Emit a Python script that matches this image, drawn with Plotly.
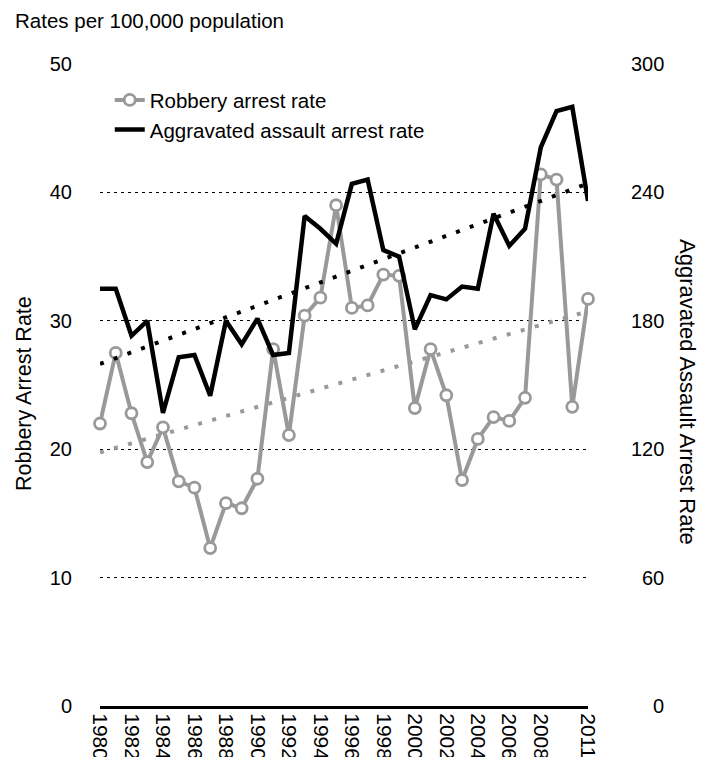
import numpy as np
import plotly.graph_objects as go

YEARS = list(range(1980, 2012))
ROBBERY = [22.0, 27.5, 22.8, 19.0, 21.7, 17.5, 17.0, 12.3, 15.8, 15.4, 17.7, 27.8,
           21.1, 30.4, 31.8, 39.0, 31.0, 31.2, 33.6, 33.5, 23.2, 27.8, 24.2, 17.6,
           20.8, 22.5, 22.2, 24.0, 41.4, 41.0, 23.3, 31.7]
ASSAULT = [195, 195, 173, 180, 137, 163, 164, 145, 180, 169, 181, 164,
           165, 229, 223, 216, 244, 246, 213, 210, 176, 192, 190, 196,
           195, 230, 215, 223, 261, 278, 280, 236]
X_TICKS = [1980, 1982, 1984, 1986, 1988, 1990, 1992, 1994, 1996, 1998,
           2000, 2002, 2004, 2006, 2008, 2011]
LEFT_TICKS = [0, 10, 20, 30, 40, 50]
RIGHT_TICKS = [0, 60, 120, 180, 240, 300]

FONT = "Liberation Sans, Arial, Helvetica, sans-serif"
GRAY = "#999999"

# page body has an 8px default margin
W, H = 712 - 8, 757 - 8

yrs = np.array(YEARS, dtype=float)
rob_fit = np.polyval(np.polyfit(yrs, ROBBERY, 1), yrs)
asl_fit = np.polyval(np.polyfit(yrs, ASSAULT, 1), yrs)

fig = go.Figure()

fig.add_trace(go.Scatter(x=YEARS, y=rob_fit, mode="lines", showlegend=False,
                         line=dict(color=GRAY, width=4, dash="4px,10.6px"),
                         hoverinfo="skip"))
fig.add_trace(go.Scatter(x=YEARS, y=asl_fit, mode="lines", showlegend=False, yaxis="y2",
                         line=dict(color="black", width=4, dash="4px,10.6px"),
                         hoverinfo="skip"))
fig.add_trace(go.Scatter(x=YEARS, y=ASSAULT, mode="lines", yaxis="y2",
                         name="Aggravated assault arrest rate",
                         line=dict(color="black", width=4.5), legendrank=2))
fig.add_trace(go.Scatter(x=YEARS, y=ROBBERY, mode="lines+markers",
                         name="Robbery arrest rate", cliponaxis=False,
                         line=dict(color=GRAY, width=4),
                         marker=dict(symbol="circle", size=11, color="white",
                                     line=dict(color=GRAY, width=2.8)),
                         legendrank=1))

annotations = [
    dict(text="Robbery Arrest Rate", xref="paper", yref="paper", x=(24 - 100) / 488,
         y=(706 - 394) / 642, textangle=-90, showarrow=False,
         xanchor="center", yanchor="middle", font=dict(size=21.5)),
    dict(text="Aggravated Assault Arrest Rate", xref="paper", yref="paper",
         x=(688 - 100) / 488, y=(706 - 392) / 642, textangle=90, showarrow=False,
         xanchor="center", yanchor="middle", font=dict(size=22)),
]
for v in RIGHT_TICKS:
    annotations.append(dict(text=str(v), xref="paper", yref="y2", x=1, y=v,
                            xanchor="right", yanchor="middle", xshift=78,
                            showarrow=False, font=dict(size=20)))

fig.update_layout(
    template="none",
    width=W, height=H,
    margin=dict(l=92, r=124, t=56, b=51),
    paper_bgcolor="white", plot_bgcolor="white",
    font=dict(family=FONT, size=20, color="black"),
    title=dict(text="Rates per 100,000 population", xref="container", yref="container",
               x=7 / W, y=1 - 13 / H, xanchor="left", yanchor="middle",
               font=dict(size=20.5)),
    showlegend=True,
    legend=dict(x=0.02, y=0.975, xanchor="left", yanchor="top",
                bgcolor="rgba(0,0,0,0)", font=dict(size=20.5), traceorder="normal"),
    xaxis=dict(range=[1980, 2011], tickvals=X_TICKS, ticktext=[str(t) for t in X_TICKS],
               tickangle=90, showline=True, linecolor="black", linewidth=3,
               showgrid=False, zeroline=False, ticks="", tickfont=dict(size=21),
               automargin=False),
    yaxis=dict(range=[0, 50], tickvals=LEFT_TICKS, showgrid=True, gridcolor="black",
               gridwidth=1, griddash="3px,4px", zeroline=False, showline=False,
               ticks="", ticklabelstandoff=27, automargin=False),
    yaxis2=dict(range=[0, 300], tickvals=RIGHT_TICKS, overlaying="y", side="right",
                showgrid=False, zeroline=False, showline=False, showticklabels=False,
                ticks="", automargin=False),
    annotations=annotations,
)

fig.write_html("out.html")
